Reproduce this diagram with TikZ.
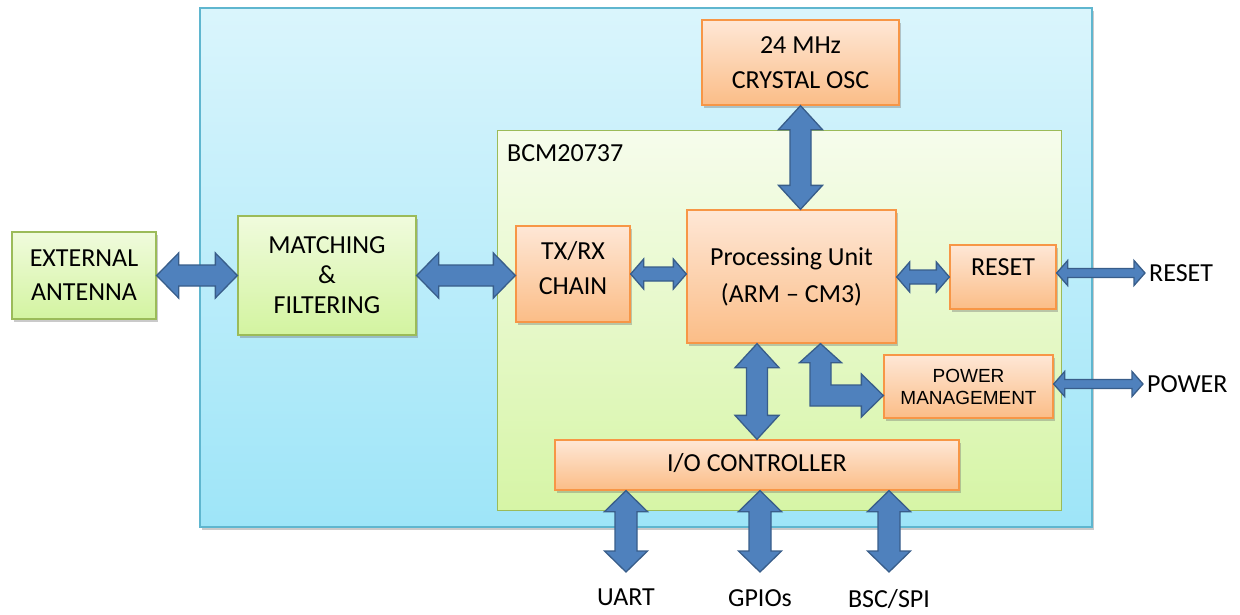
\documentclass[tikz,border=0pt]{standalone}
\usepackage{fontspec}
\setmainfont{Carlito}
\newfontfamily\arialfont{Liberation Sans}
\usetikzlibrary{calc}
\usetikzlibrary{shadows}

\definecolor{bluetop}{HTML}{DAF5FC}
\definecolor{bluebot}{HTML}{9EE5F8}
\definecolor{blueline}{HTML}{5FB6CF}
\definecolor{chiptop}{HTML}{F6FCEC}
\definecolor{chipbot}{HTML}{D6F5A6}
\definecolor{grntop}{HTML}{F0FBDD}
\definecolor{grnbot}{HTML}{D3F4A0}
\definecolor{grnline}{HTML}{9BBB59}
\definecolor{orgtop}{HTML}{FEE7D6}
\definecolor{orgbot}{HTML}{FBBD87}
\definecolor{orgline}{HTML}{F79646}
\definecolor{arrfill}{HTML}{4F81BD}
\definecolor{arrline}{HTML}{385D8A}

\tikzset{
  boxshadow/.style={drop shadow={shadow xshift=2pt, shadow yshift=-2.5pt, opacity=0.35, fill=black!60}},
  greenbox/.style={draw=grnline, line width=1.3pt, top color=grntop, bottom color=grnbot,
    boxshadow, align=center, font=\fontsize{26}{34}\selectfont},
  orangebox/.style={draw=orgline, line width=1.3pt, top color=orgtop, bottom color=orgbot,
    boxshadow, align=center, font=\fontsize{26}{35}\selectfont},
  blockarrow/.style={fill=arrfill, draw=arrline, line width=1.3pt, line join=miter},
  sidelabel/.style={anchor=west, inner xsep=4pt, font=\fontsize{26}{30}\selectfont},
  portlabel/.style={anchor=north, inner ysep=17pt, inner xsep=0pt, font=\fontsize{26}{30}\selectfont}
}

% double headed block arrow: shaft half width, head half width, head length, from, to
\newcommand{\dblarrow}[5]{%
  \path[blockarrow] (#4)
    -- ($($(#4)!#3!(#5)$)!#2!90:(#5)$) -- ($($(#4)!#3!(#5)$)!#1!90:(#5)$)
    -- ($($(#5)!#3!(#4)$)!#1!-90:(#4)$) -- ($($(#5)!#3!(#4)$)!#2!-90:(#4)$)
    -- (#5)
    -- ($($(#5)!#3!(#4)$)!#2!90:(#4)$) -- ($($(#5)!#3!(#4)$)!#1!90:(#4)$)
    -- ($($(#4)!#3!(#5)$)!#1!-90:(#5)$) -- ($($(#4)!#3!(#5)$)!#2!-90:(#5)$)
    -- cycle;}

\begin{document}
\begin{tikzpicture}[x=1pt, y=-1pt]
  \useasboundingbox (0,0) rectangle (1240,614);

  % module and chip
  \draw[draw=blueline, line width=1.3pt, top color=bluetop, bottom color=bluebot, boxshadow]
    (200,8) rectangle (1092,527);
  \draw[draw=grnline, line width=1pt, top color=chiptop, bottom color=chipbot]
    (497,130) rectangle (1061,510);
  \node[anchor=base west, inner sep=0pt, font=\fontsize{26}{30}\selectfont] (chip) at (507,161) {BCM20737};

  % blocks
  \node[greenbox, minimum width=144pt, minimum height=87pt] (antenna) at (84,275.5) {EXTERNAL\\ANTENNA};
  \node[greenbox, minimum width=178pt, minimum height=119pt, font=\fontsize{26}{30}\selectfont] (match) at (327,275.5) {MATCHING\\\&\\FILTERING};
  \node[orangebox, minimum width=114pt, minimum height=96pt, text depth=12pt] (txrx) at (573,274) {TX/RX\\CHAIN};
  \node[orangebox, minimum width=209pt, minimum height=133pt, font=\fontsize{26}{37}\selectfont] (pu) at (791.5,276.5) {Processing Unit\\(ARM -- CM3)};
  \node[orangebox, minimum width=197pt, minimum height=85pt] (osc) at (800.5,62.5) {24 MHz\\CRYSTAL OSC};
  \node[orangebox, minimum width=106pt, minimum height=64pt, text depth=19pt] (reset) at (1003,277) {RESET};
  \node[orangebox, minimum width=169pt, minimum height=63pt, font=\arialfont\fontsize{19}{22}\selectfont] (pm) at (968.5,386.5) {POWER\\MANAGEMENT};
  \node[orangebox, minimum width=404pt, minimum height=50pt, text depth=5pt] (io) at (757,465) {I/O CONTROLLER};

  % external pins
  \node[sidelabel] (resetpin) at (1145,273) {RESET};
  \node[sidelabel] (powerpin) at (1143,384) {POWER};
  \node[portlabel] (uart) at (626,572) {UART};
  \node[portlabel] (gpio) at (760,572) {GPIOs};
  \node[portlabel] (bsc) at (889,572) {BSC/SPI};

  % connections
  \dblarrow{10.5pt}{22.5pt}{22pt}{antenna.east}{match.west}
  \dblarrow{10.5pt}{22.5pt}{22pt}{match.east}{txrx.west |- match.east}
  \dblarrow{7pt}{15pt}{13pt}{txrx.east}{pu.west |- txrx.east}
  \dblarrow{7pt}{15pt}{13pt}{pu.east |- reset.west}{reset.west}
  \dblarrow{4.5pt}{12.5pt}{11pt}{reset.east |- resetpin.west}{resetpin.west}
  \dblarrow{4.5pt}{12.5pt}{11pt}{pm.east |- powerpin.west}{powerpin.west}
  \dblarrow{10.5pt}{22pt}{24pt}{osc.south}{osc.south |- pu.north}
  \dblarrow{10.5pt}{22pt}{24pt}{io.north |- pu.south}{io.north}
  \dblarrow{11pt}{21.5pt}{21pt}{uart.north |- io.south}{uart.north}
  \dblarrow{11pt}{21.5pt}{21pt}{gpio.north |- io.south}{gpio.north}
  \dblarrow{11pt}{21.5pt}{21pt}{bsc.north |- io.south}{bsc.north}

  % bent arrow to power management
  \coordinate (bu) at ($(pu.south)+(29,0)$);
  \coordinate (br) at ($(pm.west)+(0,9)$);
  \path[blockarrow] (bu) -- ++(21,19) -- ++(-10.5,0)
    -- ($(bu |- br)+(10.5,-10.5)$) -- ($(br)+(-22,-10.5)$) -- ++(0,-11)
    -- (br) -- ($(br)+(-22,21.5)$) -- ++(0,-11)
    -- ($(bu |- br)+(-10.5,10.5)$) -- ($(bu)+(-10.5,19)$) -- ++(-10.5,0) -- cycle;
\end{tikzpicture}
\end{document}
